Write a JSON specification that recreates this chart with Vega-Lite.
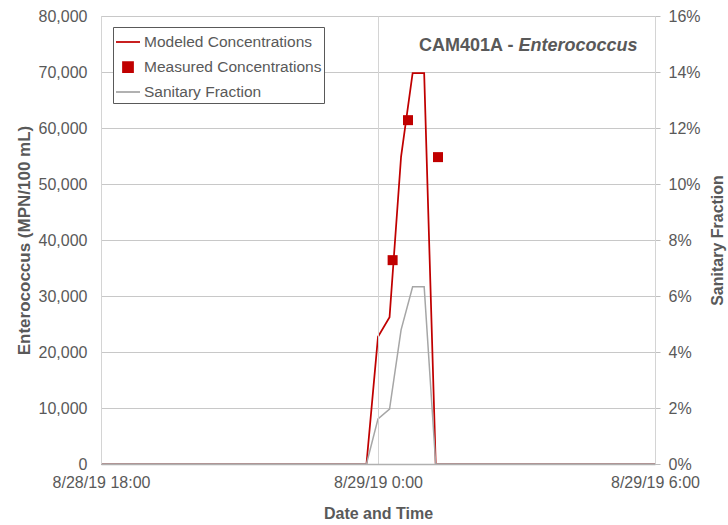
{
  "$schema": "https://vega.github.io/schema/vega-lite/v6.json",
  "width": 554,
  "height": 448,
  "autosize": {"type": "none"},
  "padding": {"left": 101, "top": 16, "right": 73, "bottom": 61},
  "background": "white",
  "config": {
    "font": "Liberation Sans",
    "view": {"stroke": null},
    "axis": {
      "labelFont": "Liberation Sans",
      "titleFont": "Liberation Sans",
      "labelColor": "#595959",
      "labelFontSize": 16,
      "titleColor": "#595959",
      "titleFontSize": 16,
      "titleFontWeight": "bold",
      "domainColor": "#bfbfbf",
      "tickColor": "#bfbfbf",
      "gridColor": "#d4d4d4",
      "gridOpacity": 1
    },
    "legend": {
      "orient": "none",
      "legendX": 12,
      "legendY": 11,
      "labelFont": "Liberation Sans",
      "labelFontSize": 15.5,
      "labelColor": "#595959",
      "strokeColor": "#595959",
      "fillColor": "white",
      "padding": 2,
      "rowPadding": 3,
      "labelOffset": 3,
      "symbolSize": 576,
      "symbolStrokeWidth": 1.75,
      "labelLimit": 400
    }
  },
  "datasets": {
    "modeled": [
      {"t": "2019-08-28T18:00:00Z", "v": 0},
      {"t": "2019-08-28T23:45:00Z", "v": 0},
      {"t": "2019-08-29T00:00:00Z", "v": 22700},
      {"t": "2019-08-29T00:15:00Z", "v": 26200},
      {"t": "2019-08-29T00:30:00Z", "v": 54900},
      {"t": "2019-08-29T00:45:00Z", "v": 69800},
      {"t": "2019-08-29T01:00:00Z", "v": 69800},
      {"t": "2019-08-29T01:15:00Z", "v": 0},
      {"t": "2019-08-29T06:00:00Z", "v": 0}
    ],
    "measured": [
      {"t": "2019-08-29T00:19:00Z", "v": 36400},
      {"t": "2019-08-29T00:39:00Z", "v": 61400},
      {"t": "2019-08-29T01:18:00Z", "v": 54800}
    ],
    "sanitary": [
      {"t": "2019-08-28T18:00:00Z", "f": 0},
      {"t": "2019-08-28T23:45:00Z", "f": 0},
      {"t": "2019-08-29T00:00:00Z", "f": 0.0161},
      {"t": "2019-08-29T00:15:00Z", "f": 0.0196},
      {"t": "2019-08-29T00:30:00Z", "f": 0.0479},
      {"t": "2019-08-29T00:45:00Z", "f": 0.0633},
      {"t": "2019-08-29T01:00:00Z", "f": 0.0633},
      {"t": "2019-08-29T01:15:00Z", "f": 0},
      {"t": "2019-08-29T06:00:00Z", "f": 0}
    ],
    "label": [
      {"t": "2019-08-29T02:56:00Z", "v": 74600, "a": "CAM401A -", "b": "Enterococcus"}
    ]
  },
  "encoding": {
    "x": {
      "field": "t",
      "type": "temporal",
      "scale": {
        "type": "utc",
        "domain": [
          {"year": 2019, "month": 8, "date": 28, "hours": 18, "utc": true},
          {"year": 2019, "month": 8, "date": 29, "hours": 6, "utc": true}
        ]
      },
      "axis": {
        "title": "Date and Time",
        "values": [
          {"year": 2019, "month": 8, "date": 28, "hours": 18, "utc": true},
          {"year": 2019, "month": 8, "date": 29, "hours": 0, "utc": true},
          {"year": 2019, "month": 8, "date": 29, "hours": 6, "utc": true}
        ],
        "format": "%-m/%-d/%y %-H:%M",
        "grid": true,
        "ticks": false,
        "labelPadding": 10,
        "titlePadding": 15,
        "labelFlush": false,
        "labelOverlap": false,
        "domainColor": "#b0b0b0",
        "domainWidth": 1.5,
        "zindex": 1
      }
    }
  },
  "layer": [
    {
      "encoding": {
        "y": {
          "field": "v",
          "type": "quantitative",
          "scale": {"domain": [0, 80000], "nice": false},
          "axis": {
            "title": "Enterococcus (MPN/100 mL)",
            "titleFontSize": 17,
            "values": [0, 10000, 20000, 30000, 40000, 50000, 60000, 70000, 80000],
            "format": ",d",
            "grid": false,
            "ticks": false,
            "labelPadding": 14,
            "titlePadding": 5
          }
        }
      },
      "layer": [
        {
          "data": {"name": "modeled"},
          "mark": {"type": "line", "strokeWidth": 1.75},
          "encoding": {
            "color": {
              "datum": "Modeled Concentrations",
              "type": "nominal",
              "scale": {
                "domain": ["Modeled Concentrations", "Measured Concentrations", "Sanitary Fraction"],
                "range": ["#c00000", "#c00000", "#a6a6a6"]
              },
              "legend": {"title": null}
            }
          }
        },
        {
          "data": {"name": "measured"},
          "mark": {"type": "point", "filled": true, "opacity": 1, "size": 576},
          "encoding": {
            "color": {"datum": "Measured Concentrations", "type": "nominal"},
            "shape": {
              "datum": "Measured Concentrations",
              "type": "nominal",
              "scale": {
                "domain": ["Modeled Concentrations", "Measured Concentrations", "Sanitary Fraction"],
                "range": ["stroke", "M-0.4167,-0.4167H0.4167V0.4167H-0.4167Z", "stroke"]
              },
              "legend": {"title": null}
            }
          }
        },
        {
          "data": {"name": "label"},
          "mark": {"type": "text", "align": "right", "baseline": "middle", "fontSize": 18, "fontWeight": "bold", "color": "#595959"},
          "encoding": {"text": {"field": "a"}}
        },
        {
          "data": {"name": "label"},
          "mark": {"type": "text", "align": "left", "baseline": "middle", "dx": 5, "fontSize": 18, "fontWeight": "bold", "fontStyle": "italic", "color": "#595959"},
          "encoding": {"text": {"field": "b"}}
        }
      ]
    },
    {
      "data": {"name": "sanitary"},
      "mark": {"type": "line", "strokeWidth": 1.5},
      "encoding": {
        "y": {
          "field": "f",
          "type": "quantitative",
          "scale": {"domain": [0, 0.16], "nice": false},
          "axis": {
            "orient": "right",
            "title": "Sanitary Fraction",
            "values": [0, 0.02, 0.04, 0.06, 0.08, 0.1, 0.12, 0.14, 0.16],
            "format": ".0%",
            "grid": true,
            "gridColor": "#c8c8c8",
            "ticks": true,
            "tickSize": 5,
            "labelPadding": 8,
            "titlePadding": 25,
            "titleAngle": 270
          }
        },
        "color": {"datum": "Sanitary Fraction", "type": "nominal"}
      }
    }
  ],
  "resolve": {"scale": {"y": "independent"}}
}
